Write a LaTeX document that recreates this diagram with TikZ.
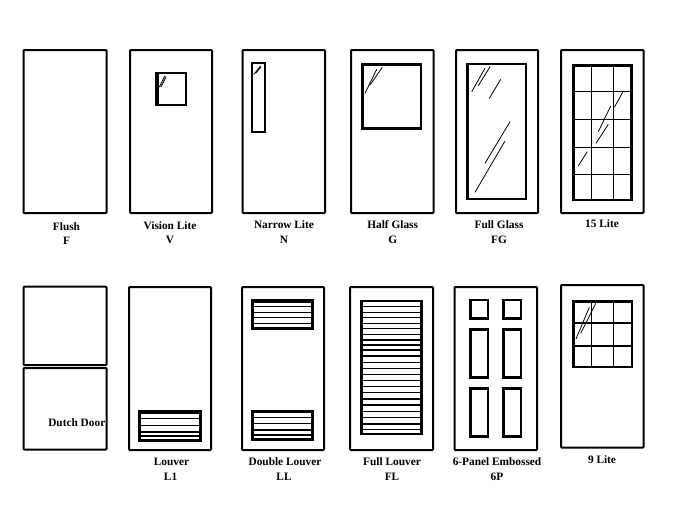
\documentclass[tikz,border=0pt]{standalone}
\usepackage{fontspec}
\setmainfont{Liberation Serif}
\tikzset{
  door/.style={draw=black,line width=1.5pt,rounded corners=0.6pt},
  frame/.style={draw=black,line width=1.9pt},
  framelt/.style={draw=black,line width=1.6pt},
  edge/.style={draw=black,line width=2.5pt},
  bar/.style={draw=black,line width=1.15pt},
  muntin/.style={draw=black,line width=0.85pt},
  glint/.style={draw=black,line width=0.6pt},
  glintheavy/.style={draw=black,line width=1pt,dash pattern=on 1.2pt off 0.5pt},
  lbl/.style={font=\bfseries\fontsize{8.5}{9}\selectfont,text=black,inner sep=0pt,anchor=center}
}
\begin{document}
\begin{tikzpicture}[x=0.75pt,y=-0.75pt]
\useasboundingbox (0,0) rectangle (673,521);
% ---- top row doors
\draw[door] (23.5,50) rectangle (106.5,213);
\draw[door] (130,50) rectangle (212,213);
\draw[door] (242.5,50) rectangle (325,213);
\draw[door] (351,50) rectangle (433.5,213);
\draw[door] (456,50) rectangle (538,213);
\draw[door] (561,50) rectangle (643.5,213);
% vision lite
\draw[frame] (156.8,72.8) rectangle (185.8,105.2);
\draw[edge] (157,72) -- (157,106);
\draw[glintheavy] (159.5,87) -- (165,76);
\draw[glint] (161,87) -- (166,77);
% narrow lite
\draw[framelt] (251.7,62.7) rectangle (264.8,132.3);
\draw[glint] (254,74.3) -- (260.5,66);
\draw[glint] (256,73) -- (261,67);
% half glass
\draw[frame] (361.8,64.3) rectangle (421,128.3);
\draw[edge] (362.2,64) -- (362.2,129);
\draw[edge] (361.5,64.6) -- (421.5,64.6);
\draw[glint] (365,93.3) -- (376.7,69.3);
\draw[glint] (370,85) -- (382.3,67.3);
% full glass
\draw[frame] (466.8,63.8) rectangle (526.2,199.2);
\draw[edge] (467.2,63) -- (467.2,200);
\draw[glint] (471.7,91.7) -- (485,68.3);
\draw[glint] (478.3,85.7) -- (490,66.7);
\draw[glint] (489.3,98.3) -- (500.7,79.3);
\draw[glint] (485,163.3) -- (510,121.7);
\draw[glint] (475,192.3) -- (505,141);
% 15 lite
\foreach \xx in {591.7,613.3} \draw[muntin] (\xx,64) -- (\xx,200.5);
\foreach \yy in {91.7,119.7,147.7,174.3} \draw[muntin] (572,\yy) -- (632,\yy);
\draw[frame] (572.8,64.8) rectangle (631.5,199.8);
\draw[edge] (573.2,64) -- (573.2,200.5);
\draw[edge] (572,65.2) -- (632,65.2);
\draw[glint] (614.3,107.3) -- (622.7,92.3);
\draw[glint] (598.3,131.7) -- (610.7,106);
\draw[glint] (596,143.3) -- (608.3,124.3);
\draw[glint] (578.3,165.7) -- (587.3,151.7);
% ---- bottom row doors
\draw[door] (23.5,286.7) rectangle (106.5,365);
\draw[door] (23.5,368) rectangle (106.5,449.5);
\draw[door] (129,287) rectangle (211,450);
\draw[door] (242,287) rectangle (324,450);
\draw[door] (350,287) rectangle (433,450);
\draw[door] (454.5,287) rectangle (537,450);
\draw[door] (561,285) rectangle (643.5,447.5);
% louver
\foreach \yy in {418.5,425.3,432,436} \draw[bar] (139,\yy) -- (201,\yy);
\draw[frame] (139.7,411.7) rectangle (200.3,440.3);
\draw[edge] (139,412.3) -- (201,412.3);
% double louver
\foreach \yy in {306.7,312.3,317.7,323.3} \draw[bar] (252,\yy) -- (313,\yy);
\draw[frame] (252.7,300.7) rectangle (312.3,328.3);
\draw[edge] (252,301.2) -- (313,301.2);
\foreach \yy in {417.7,423.3,430,435} \draw[bar] (252,\yy) -- (313,\yy);
\draw[frame] (252.7,411.7) rectangle (312.3,439.3);
% full louver
\foreach \yy in {110,127,143,160,175,193,210,225,240,258,278,296,313,332,350,368,387,405,425,443,462,478}
  \draw[bar] (360.5,270+\yy/3) -- (422,270+\yy/3);
\draw[frame] (361.2,301.2) rectangle (421.3,433.8);
\draw[edge] (361.7,300.5) -- (361.7,434.5);
% 6 panel
\foreach \xa/\xb in {470.7/487.8,503.7/520.8} {
  \draw[frame] (\xa,300.2) rectangle (\xb,318.3);
  \draw[frame] (\xa,329.7) rectangle (\xb,377.3);
  \draw[frame] (\xa,388.7) rectangle (\xb,436.3);
}
% 9 lite
\foreach \xx in {591.7,613.3} \draw[muntin] (\xx,300) -- (\xx,368);
\foreach \yy in {323,346} \draw[muntin] (572,\yy) -- (632.5,\yy);
\draw[frame] (572.8,300.8) rectangle (631.8,367.2);
\draw[edge] (573.2,300) -- (573.2,368);
\draw[edge] (572,301.2) -- (632.5,301.2);
\draw[glint] (576,339) -- (589.3,307.3);
\draw[glint] (580.7,333.3) -- (595.7,303.3);
% ---- labels
\node[lbl] (n1) at (66.5,226.7) {Flush};
\node[lbl] (c1) at (66.5,240.7) {F};
\node[lbl] (n2) at (170,225.7) {Vision Lite};
\node[lbl] (c2) at (170,239.7) {V};
\node[lbl] (n3) at (284,224.7) {Narrow Lite};
\node[lbl] (c3) at (284,239.7) {N};
\node[lbl] (n4) at (392.7,224.7) {Half Glass};
\node[lbl] (c4) at (392.7,239.7) {G};
\node[lbl] (n5) at (499,224.7) {Full Glass};
\node[lbl] (c5) at (499,239.7) {FG};
\node[lbl] (n6) at (602,223.7) {15 Lite};
\node[lbl] (n7) at (76.8,422.3) {Dutch Door};
\node[lbl] (n8) at (171.5,461.7) {Louver};
\node[lbl] (c8) at (170.6,476.7) {L1};
\node[lbl] (n9) at (285,461.7) {Double Louver};
\node[lbl] (c9) at (284,476.7) {LL};
\node[lbl] (n10) at (392,461.7) {Full Louver};
\node[lbl] (c10) at (392,476.7) {FL};
\node[lbl] (n11) at (497,461.7) {6-Panel Embossed};
\node[lbl] (c11) at (497,476.7) {6P};
\node[lbl] (n12) at (602,459.7) {9 Lite};
\end{tikzpicture}
\end{document}
